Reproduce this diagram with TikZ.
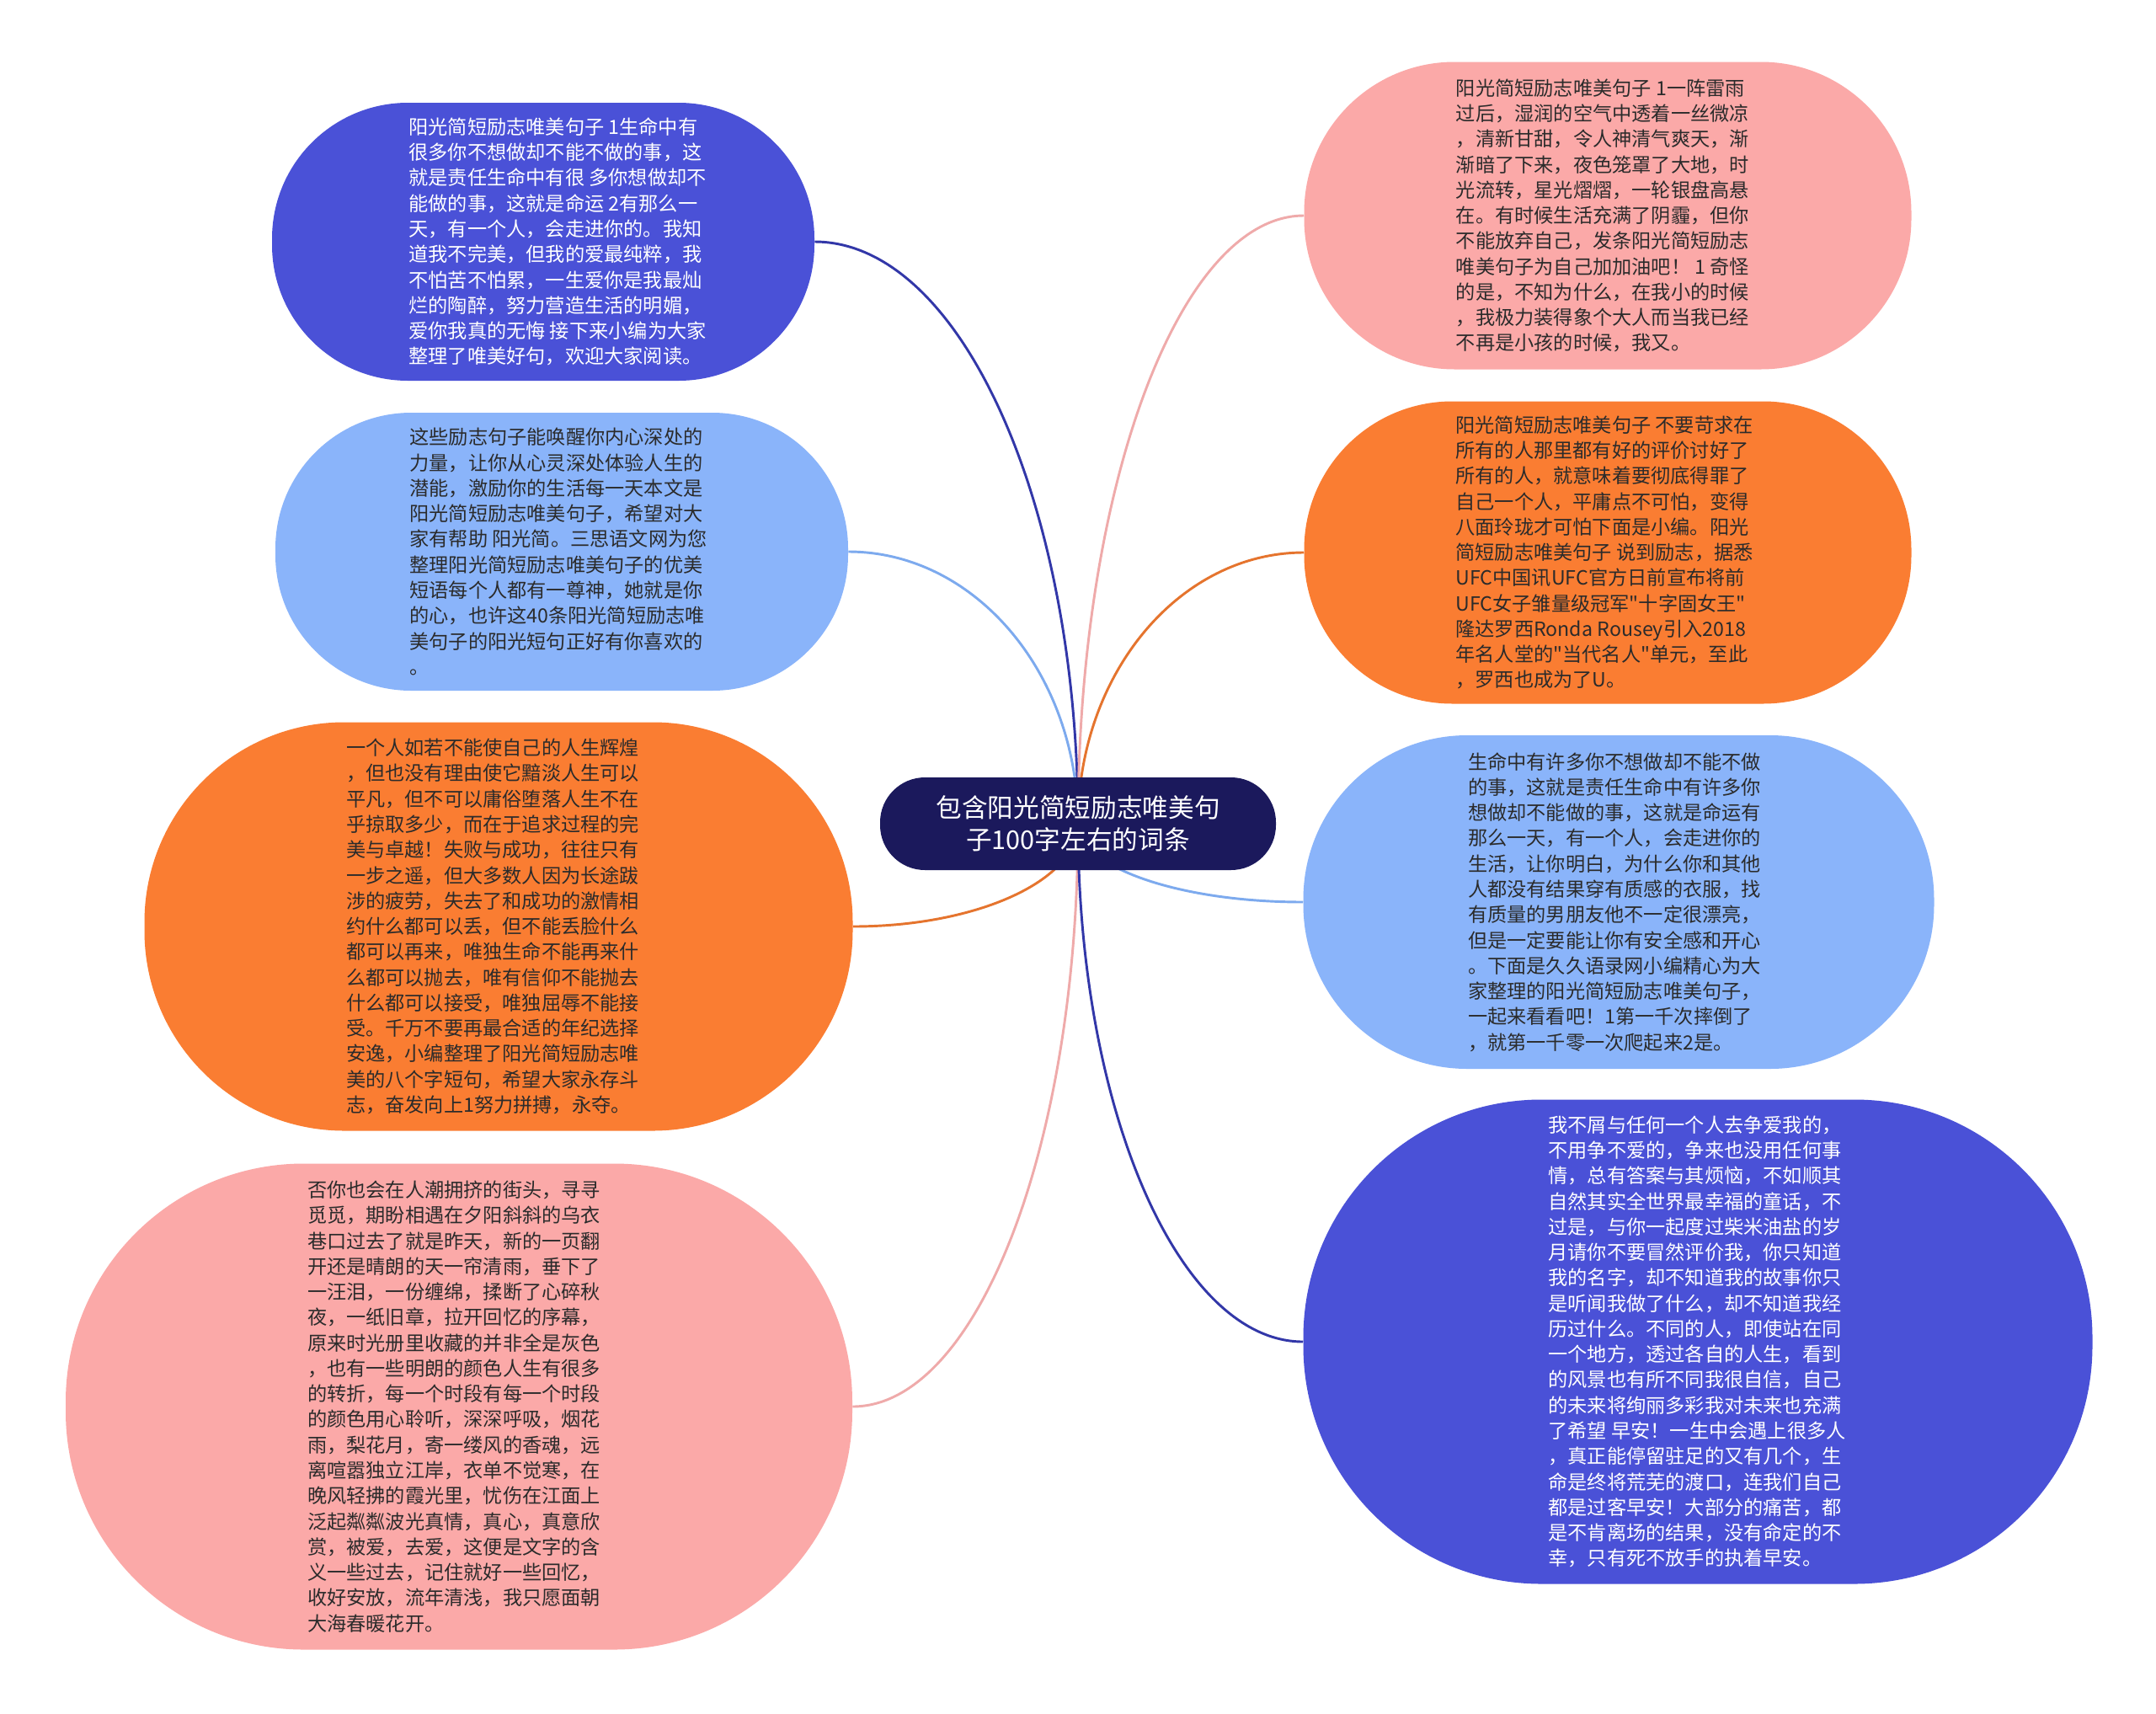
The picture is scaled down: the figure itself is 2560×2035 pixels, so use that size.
\documentclass[tikz,border=0pt]{standalone}
\usepackage{fontspec}
\newfontfamily\cjk{Noto Sans CJK SC}
\usetikzlibrary{calc}
\pgfdeclarelayer{bg}
\pgfsetlayers{bg,main}
\definecolor{cdark}{HTML}{4A51D7}
\definecolor{clight}{HTML}{8AB4FA}
\definecolor{corange}{HTML}{FA7D32}
\definecolor{cpink}{HTML}{FBA9A8}
\definecolor{ccenter}{HTML}{1B195C}
\definecolor{ldark}{HTML}{3237A8}
\definecolor{llight}{HTML}{7DAAEE}
\definecolor{lorange}{HTML}{E5742E}
\definecolor{lpink}{HTML}{EFAAAA}
\definecolor{txtdark}{HTML}{2B2B2B}
\tikzset{
  box/.style={rectangle, inner sep=0pt},
  txt/.style={inner sep=0pt, align=left, text=txtdark,
    font=\cjk\fontsize{17.4pt}{22.7pt}\selectfont},
  ctr/.style={rectangle, inner sep=0pt, align=center, text=white, fill=ccenter,
    font=\cjk\fontsize{23pt}{28.5pt}\selectfont},
  conn/.style={line width=2.2pt}
}
\newcommand\myconn[3]{%
  \draw[conn,#1] (#2) .. controls ($(#2)!0.552!(#2 |- #3)$) and ($(#3)!0.552!(#2 |- #3)$) .. (#3);}
\begin{document}
\begin{tikzpicture}[x=0.75pt,y=-0.75pt]
\useasboundingbox (0,0) rectangle (2560,2035);
\begin{pgfonlayer}{bg}
\fill[white] (0,0) rectangle (2560,2035);
\end{pgfonlayer}

\node[ctr, minimum width=352.5pt, minimum height=82.5pt, rounded corners=40pt] (c) at (1280,978)
{包含阳光简短励志唯美句\\子100字左右的词条};

% boxes
\node[box, fill=cdark, minimum width=483pt, minimum height=247.5pt, rounded corners=121pt] (n1) at (645,287) {};
\node[box, fill=clight, minimum width=510pt, minimum height=247.5pt, rounded corners=121pt] (n2) at (667,655) {};
\node[box, fill=corange, minimum width=630.75pt, minimum height=363.75pt, rounded corners=178pt] (n3) at (592,1100) {};
\node[box, fill=cpink, minimum width=700.5pt, minimum height=432.75pt, rounded corners=212pt] (n4) at (545,1670) {};
\node[box, fill=cpink, minimum width=540.75pt, minimum height=273.75pt, rounded corners=134pt] (n5) at (1909,256) {};
\node[box, fill=corange, minimum width=540.75pt, minimum height=269.25pt, rounded corners=132pt] (n6) at (1909,656) {};
\node[box, fill=clight, minimum width=561.75pt, minimum height=297pt, rounded corners=146pt] (n7) at (1922,1071) {};
\node[box, fill=cdark, minimum width=702.75pt, minimum height=431.25pt, rounded corners=212pt] (n8) at (2016,1593) {};

% texts
\node[txt, text=white] (t1) at ($(n1.center)+(17,0)$)
{阳光简短励志唯美句子 1生命中有\\很多你不想做却不能不做的事，这\\就是责任生命中有很 多你想做却不\\能做的事，这就是命运 2有那么一\\天，有一个人，会走进你的。我知\\道我不完美，但我的爱最纯粹，我\\不怕苦不怕累，一生爱你是我最灿\\烂的陶醉，努力营造生活的明媚，\\爱你我真的无悔 接下来小编为大家\\整理了唯美好句，欢迎大家阅读。};

\node[txt] (t2) at ($(n2.center)+(-4,0)$)
{这些励志句子能唤醒你内心深处的\\力量，让你从心灵深处体验人生的\\潜能，激励你的生活每一天本文是\\阳光简短励志唯美句子，希望对大\\家有帮助 阳光简。三思语文网为您\\整理阳光简短励志唯美句子的优美\\短语每个人都有一尊神，她就是你\\的心，也许这40条阳光简短励志唯\\美句子的阳光短句正好有你喜欢的\\。};

\node[txt] (t3) at ($(n3.center)+(-7,0)$)
{一个人如若不能使自己的人生辉煌\\，但也没有理由使它黯淡人生可以\\平凡，但不可以庸俗堕落人生不在\\乎掠取多少，而在于追求过程的完\\美与卓越！失败与成功，往往只有\\一步之遥，但大多数人因为长途跋\\涉的疲劳，失去了和成功的激情相\\约什么都可以丢，但不能丢脸什么\\都可以再来，唯独生命不能再来什\\么都可以抛去，唯有信仰不能抛去\\什么都可以接受，唯独屈辱不能接\\受。千万不要再最合适的年纪选择\\安逸，小编整理了阳光简短励志唯\\美的八个字短句，希望大家永存斗\\志，奋发向上1努力拼搏，永夺。};

\node[txt] (t4) at ($(n4.center)+(-6,0)$)
{否你也会在人潮拥挤的街头，寻寻\\觅觅，期盼相遇在夕阳斜斜的乌衣\\巷口过去了就是昨天，新的一页翻\\开还是晴朗的天一帘清雨，垂下了\\一汪泪，一份缠绵，揉断了心碎秋\\夜，一纸旧章，拉开回忆的序幕，\\原来时光册里收藏的并非全是灰色\\，也有一些明朗的颜色人生有很多\\的转折，每一个时段有每一个时段\\的颜色用心聆听，深深呼吸，烟花\\雨，梨花月，寄一缕风的香魂，远\\离喧嚣独立江岸，衣单不觉寒，在\\晚风轻拂的霞光里，忧伤在江面上\\泛起粼粼波光真情，真心，真意欣\\赏，被爱，去爱，这便是文字的含\\义一些过去，记住就好一些回忆，\\收好安放，流年清浅，我只愿面朝\\大海春暖花开。};

\node[txt] (t5) at ($(n5.center)+(-6,0)$)
{阳光简短励志唯美句子 1一阵雷雨\\过后，湿润的空气中透着一丝微凉\\，清新甘甜，令人神清气爽天，渐\\渐暗了下来，夜色笼罩了大地，时\\光流转，星光熠熠，一轮银盘高悬\\在。有时候生活充满了阴霾，但你\\不能放弃自己，发条阳光简短励志\\唯美句子为自己加加油吧！ 1 奇怪\\的是，不知为什么，在我小的时候\\，我极力装得象个大人而当我已经\\不再是小孩的时候，我又。};

\node[txt] (t6) at ($(n6.center)+(-4,0)$)
{阳光简短励志唯美句子 不要苛求在\\所有的人那里都有好的评价讨好了\\所有的人，就意味着要彻底得罪了\\自己一个人，平庸点不可怕，变得\\八面玲珑才可怕下面是小编。阳光\\简短励志唯美句子 说到励志，据悉\\UFC中国讯UFC官方日前宣布将前\\UFC女子雏量级冠军"十字固女王"\\隆达罗西Ronda Rousey引入2018\\年名人堂的"当代名人"单元，至此\\，罗西也成为了U。};

\node[txt] (t7) at ($(n7.center)+(-5,0)$)
{生命中有许多你不想做却不能不做\\的事，这就是责任生命中有许多你\\想做却不能做的事，这就是命运有\\那么一天，有一个人，会走进你的\\生活，让你明白，为什么你和其他\\人都没有结果穿有质感的衣服，找\\有质量的男朋友他不一定很漂亮，\\但是一定要能让你有安全感和开心\\。下面是久久语录网小编精心为大\\家整理的阳光简短励志唯美句子，\\一起来看看吧！1第一千次摔倒了\\，就第一千零一次爬起来2是。};

\node[txt, text=white] (t8) at ($(n8.center)+(-1,0)$)
{我不屑与任何一个人去争爱我的，\\不用争不爱的，争来也没用任何事\\情，总有答案与其烦恼，不如顺其\\自然其实全世界最幸福的童话，不\\过是，与你一起度过柴米油盐的岁\\月请你不要冒然评价我，你只知道\\我的名字，却不知道我的故事你只\\是听闻我做了什么，却不知道我经\\历过什么。不同的人，即使站在同\\一个地方，透过各自的人生，看到\\的风景也有所不同我很自信，自己\\的未来将绚丽多彩我对未来也充满\\了希望 早安！一生中会遇上很多人\\，真正能停留驻足的又有几个，生\\命是终将荒芜的渡口，连我们自己\\都是过客早安！大部分的痛苦，都\\是不肯离场的结果，没有命定的不\\幸，只有死不放手的执着早安。};

\begin{pgfonlayer}{bg}
\myconn{ldark}{c.center}{n1.east}
\myconn{llight}{c.center}{n2.east}
\myconn{lorange}{c.center}{n3.east}
\myconn{lpink}{c.center}{n4.east}
\myconn{lpink}{c.center}{n5.west}
\myconn{lorange}{c.center}{n6.west}
\myconn{llight}{c.center}{n7.west}
\myconn{ldark}{c.center}{n8.west}
\end{pgfonlayer}
\end{tikzpicture}
\end{document}
